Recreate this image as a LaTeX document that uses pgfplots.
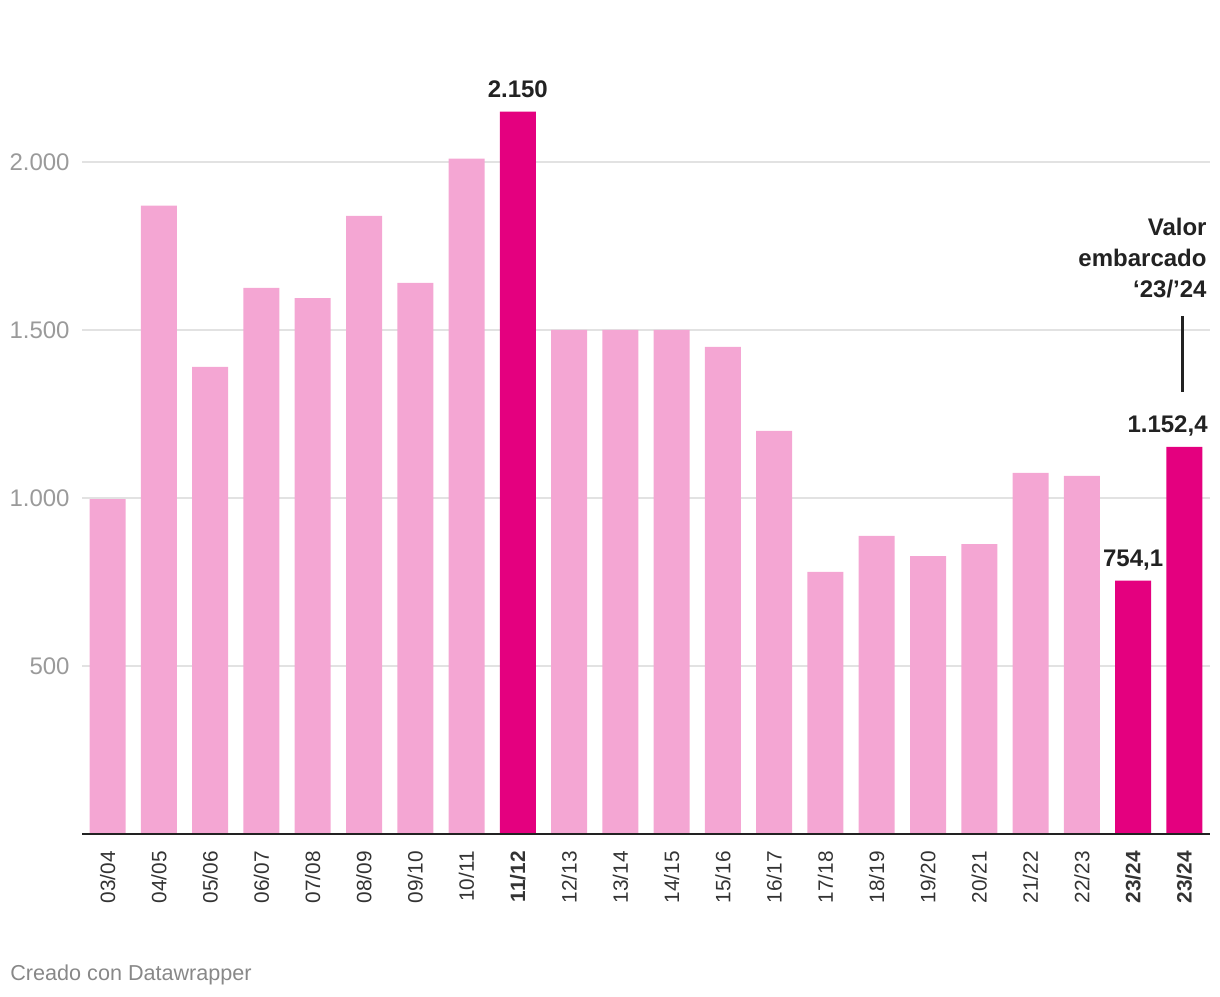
\documentclass[border=0pt]{standalone}
\usepackage{pgfplots}
\pgfplotsset{compat=1.18}
\usepackage{fontspec}
\setmainfont{Liberation Sans}
\definecolor{lightpink}{HTML}{F4A6D3}
\definecolor{magenta1}{HTML}{E4007F}
\definecolor{gridgray}{HTML}{E2E2E2}
\definecolor{tickgray}{HTML}{9A9A9A}
\definecolor{darktext}{HTML}{222222}
\definecolor{labeltext}{HTML}{333333}
\definecolor{footgray}{HTML}{888888}
\begin{document}
\begin{tikzpicture}
\path[use as bounding box] (-41pt,-81pt) rectangle (569pt,417pt);
\begin{axis}[
  at={(0,0)}, anchor=south west,
  scale only axis,
  width=564pt, height=386.4pt,
  xmin=-0.5, xmax=21.5,
  ymin=0, ymax=2300,
  axis line style={draw=none},
  major tick length=0pt,
  ybar, bar width=18pt,
  ymajorgrids,
  grid style={color=gridgray, line width=0.7pt},
  ytick={500,1000,1500,2000},
  yticklabels={500,1.000,1.500,2.000},
  yticklabel style={anchor=east, inner sep=0pt, xshift=-6pt, font=\fontsize{12}{14}\selectfont, text=tickgray},
  xtick={0,...,21},
  xticklabels={03/04,04/05,05/06,06/07,07/08,08/09,09/10,10/11,\textbf{11/12},12/13,13/14,14/15,15/16,16/17,17/18,18/19,19/20,20/21,21/22,22/23,\textbf{23/24},\textbf{23/24}},
  xticklabel style={rotate=90, anchor=east, inner sep=0pt, xshift=-8.5pt, font=\fontsize{10.4}{12}\selectfont, text=labeltext},
  clip=false,
]
\addplot[fill=lightpink, draw=none, bar shift=0pt] coordinates {
 (0,997) (1,1870) (2,1390) (3,1625) (4,1595) (5,1840) (6,1640) (7,2010)
 (9,1500) (10,1500) (11,1500) (12,1450) (13,1200) (14,780) (15,887)
 (16,827) (17,863) (18,1075) (19,1066)
};
\addplot[fill=magenta1, draw=none, bar shift=0pt] coordinates {
 (8,2150) (20,754.1) (21,1152.4)
};
\draw[line width=1pt, color=darktext] (axis cs:-0.5,0) -- (axis cs:21.5,0);
\node[anchor=base, inner sep=0pt, yshift=7pt, font=\fontsize{12}{14}\selectfont\bfseries, text=darktext] at (axis cs:8,2150) {2.150};
\node[anchor=base, inner sep=0pt, yshift=7pt, font=\fontsize{12}{14}\selectfont\bfseries, text=darktext] at (axis cs:20,754.1) {754,1};
\node[anchor=base east, inner sep=0pt, yshift=7pt, xshift=-1pt, font=\fontsize{12}{14}\selectfont\bfseries, text=darktext] at (axis cs:21.5,1152.4) {1.152,4};
\node[anchor=base east, inner sep=0pt, font=\fontsize{12}{14}\selectfont\bfseries, text=darktext] at (axis cs:21.44,1780) {Valor};
\node[anchor=base east, inner sep=0pt, font=\fontsize{12}{14}\selectfont\bfseries, text=darktext] at (axis cs:21.44,1690) {embarcado};
\node[anchor=base east, inner sep=0pt, font=\fontsize{12}{14}\selectfont\bfseries, text=darktext] at (axis cs:21.44,1598) {‘23/’24};
\draw[line width=1.5pt, color=darktext] (axis cs:20.96,1542) -- (axis cs:20.96,1315);
\end{axis}
\node[anchor=base west, inner sep=0pt, font=\fontsize{10.8}{13}\selectfont, text=footgray] at (-36pt,-73pt) {Creado con Datawrapper};
\end{tikzpicture}
\end{document}
